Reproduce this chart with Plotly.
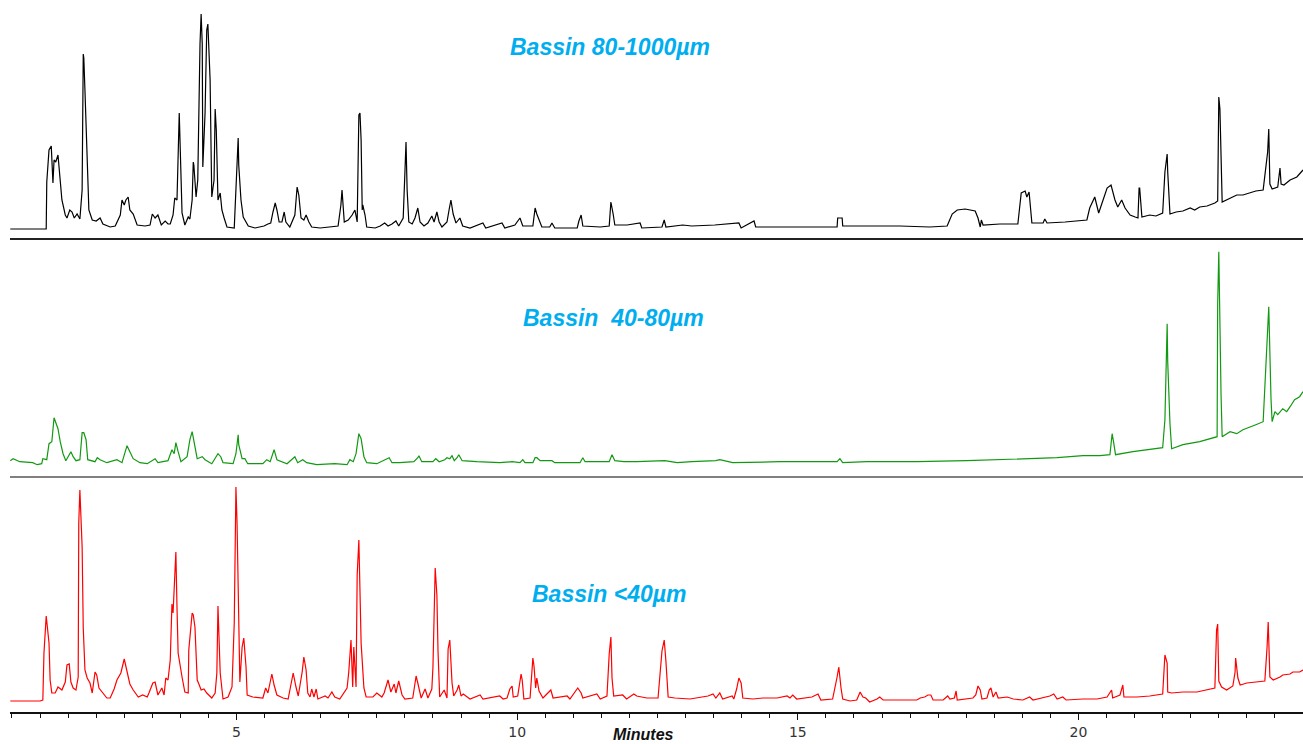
import plotly.graph_objects as go
from plotly.subplots import make_subplots

# retention time (minutes) / detector response
BLACK_T = [0.97, 1.61, 1.62, 1.66, 1.70, 1.73, 1.75, 1.78, 1.82, 1.86, 1.89, 1.95, 1.98, 2.03, 2.07,
           2.11, 2.16, 2.21, 2.25, 2.27, 2.28, 2.30, 2.34, 2.37, 2.43, 2.50, 2.57, 2.62, 2.75, 2.84,
           2.93, 2.96, 3.00, 3.03, 3.07, 3.10, 3.16, 3.23, 3.37, 3.46, 3.50, 3.55, 3.60, 3.66, 3.73,
           3.78, 3.82, 3.87, 3.90, 3.94, 3.98, 3.99, 4.01, 4.03, 4.08, 4.14, 4.17, 4.21, 4.23, 4.24,
           4.28, 4.31, 4.35, 4.37, 4.39, 4.40, 4.44, 4.47, 4.49, 4.51, 4.53, 4.55, 4.56, 4.60, 4.62,
           4.64, 4.65, 4.67, 4.71, 4.74, 4.78, 4.83, 4.96, 4.99, 5.01, 5.03, 5.04, 5.08, 5.12, 5.15,
           5.21, 5.33, 5.42, 5.49, 5.56, 5.61, 5.65, 5.69, 5.72, 5.76, 5.81, 5.85, 5.88, 5.95, 6.04,
           6.08, 6.11, 6.15, 6.20, 6.24, 6.29, 6.34, 6.49, 6.67, 6.81, 6.86, 6.88, 6.92, 6.99, 7.06,
           7.11, 7.15, 7.16, 7.18, 7.20, 7.22, 7.24, 7.25, 7.29, 7.32, 7.47, 7.56, 7.64, 7.70, 7.77,
           7.84, 7.89, 7.97, 8.00, 8.02, 8.04, 8.07, 8.13, 8.18, 8.23, 8.27, 8.34, 8.41, 8.48, 8.52,
           8.57, 8.61, 8.66, 8.75, 8.79, 8.82, 8.86, 8.91, 8.98, 9.03, 9.16, 9.39, 9.44, 9.73, 9.78,
           9.96, 10.05, 10.10, 10.28, 10.32, 10.35, 10.39, 10.44, 10.58, 10.62, 10.67, 11.07, 11.10,
           11.14, 11.17, 11.48, 11.64, 11.67, 11.71, 11.74, 11.96, 12.19, 12.22, 12.58, 12.62, 12.65,
           12.95, 13.11, 13.52, 13.95, 13.99, 14.22, 14.25, 14.86, 15.34, 15.70, 15.71, 15.79, 15.80,
           16.82, 17.35, 17.66, 17.75, 17.84, 17.98, 18.16, 18.21, 18.25, 18.27, 18.30, 18.60, 18.92,
           18.98, 19.05, 19.08, 19.12, 19.17, 19.37, 19.40, 19.44, 19.76, 20.15, 20.20, 20.29, 20.36,
           20.44, 20.51, 20.58, 20.65, 20.70, 20.77, 20.83, 20.92, 21.01, 21.06, 21.08, 21.09, 21.13,
           21.27, 21.38, 21.50, 21.54, 21.58, 21.59, 21.63, 21.74, 21.86, 21.99, 22.07, 22.16, 22.29,
           22.43, 22.48, 22.50, 22.52, 22.56, 22.64, 22.73, 22.82, 22.93, 23.05, 23.16, 23.29, 23.37,
           23.39, 23.41, 23.45, 23.55, 23.59, 23.61, 23.66, 23.77, 23.89, 24.00]
BLACK_Y = [0, 0, 47, 79, 83, 46, 69, 67, 74, 51, 29, 14, 11, 19, 17,
           11, 15, 10, 39, 175, 171, 139, 59, 19, 9, 8, 11, 5, 2, 3,
           14, 29, 24, 29, 32, 19, 15, 4, 3, 4, 15, 11, 14, 4, 8,
           5, 5, 14, 31, 29, 116, 94, 59, 16, 4, 12, 10, 29, 67, 64,
           32, 49, 185, 215, 185, 62, 116, 199, 205, 179, 149, 69, 32, 49, 120,
           99, 59, 29, 36, 19, 11, 2, 1, 34, 59, 91, 64, 29, 12, 9,
           3, 1, 2, 3, 5, 6, 17, 26, 19, 7, 7, 17, 7, 2, 14,
           42, 34, 11, 9, 14, 7, 2, 1, 2, 3, 24, 39, 7, 9, 14,
           19, 7, 49, 114, 116, 89, 19, 24, 14, 2, 1, 3, 6, 3, 5,
           8, 3, 11, 56, 87, 39, 7, 5, 11, 21, 7, 3, 6, 13, 7,
           17, 7, 2, 7, 20, 29, 15, 6, 11, 3, 1, 6, 1, 6, 1,
           4, 11, 3, 3, 21, 15, 9, 2, 2, 6, 1, 1, 8,
           14, 3, 2, 3, 27, 15, 4, 4, 6, 1, 2, 9, 2,
           4, 3, 4, 6, 1, 8, 2, 2, 2, 2, 11, 11, 3,
           3, 2, 3, 15, 19, 20, 18, 11, 2, 9, 4, 5, 5,
           36, 38, 32, 37, 6, 6, 10, 6, 7, 9, 21, 32, 16,
           29, 41, 44, 29, 22, 29, 21, 14, 12, 11, 41, 41, 12,
           14, 13, 16, 57, 75, 57, 15, 17, 18, 21, 19, 22, 23,
           26, 28, 132, 120, 27, 29, 31, 34, 34, 36, 38, 39, 77,
           100, 45, 40, 42, 61, 45, 44, 49, 52, 59]

GREEN_T = [0.97, 1.02, 1.14, 1.37, 1.45, 1.53, 1.55, 1.62, 1.66, 1.71, 1.75, 1.78, 1.82, 1.86, 1.91,
           1.96, 2.00, 2.05, 2.09, 2.14, 2.21, 2.25, 2.28, 2.32, 2.35, 2.48, 2.52, 2.57, 2.69, 2.87,
           2.96, 3.01, 3.05, 3.10, 3.16, 3.28, 3.41, 3.55, 3.60, 3.78, 3.85, 3.89, 3.92, 3.96, 4.01,
           4.12, 4.17, 4.21, 4.24, 4.30, 4.39, 4.44, 4.56, 4.67, 4.72, 4.76, 4.94, 4.99, 5.03, 5.04,
           5.10, 5.15, 5.20, 5.47, 5.54, 5.60, 5.67, 5.72, 5.90, 6.04, 6.09, 6.18, 6.25, 6.43, 6.75,
           6.97, 7.02, 7.08, 7.13, 7.18, 7.22, 7.25, 7.27, 7.32, 7.50, 7.72, 7.77, 7.91, 8.16, 8.23,
           8.25, 8.30, 8.50, 8.55, 8.61, 8.71, 8.75, 8.80, 8.84, 8.88, 8.93, 8.96, 9.02, 9.28, 9.69,
           9.91, 10.05, 10.10, 10.14, 10.28, 10.32, 10.35, 10.41, 10.62, 10.67, 11.12, 11.17, 11.21,
           11.64, 11.69, 11.74, 11.90, 12.13, 12.63, 12.85, 13.11, 13.54, 13.61, 13.84, 14.68, 15.39,
           15.70, 15.75, 15.80, 16.23, 17.12, 18.01, 18.60, 19.19, 19.62, 20.08, 20.38, 20.56, 20.58,
           20.60, 20.63, 20.66, 20.97, 21.27, 21.50, 21.54, 21.58, 21.59, 21.63, 21.66, 21.86, 22.16,
           22.39, 22.47, 22.48, 22.50, 22.54, 22.56, 22.70, 22.82, 22.93, 23.05, 23.16, 23.29, 23.36,
           23.39, 23.43, 23.45, 23.50, 23.55, 23.64, 23.71, 23.77, 23.85, 23.94, 24.00]
GREEN_Y = [2, 4, 1, 0, -2, -1, 4, 3, 19, 21, 45, 41, 34, 21, 9,
           2, 6, 11, 6, 2, 3, 30, 30, 23, 3, 1, 5, 3, 0, 3,
           0, 9, 17, 11, 4, 0, -1, 4, 0, 2, 13, 9, 20, 11, 1,
           6, 23, 31, 23, 4, 6, 3, -1, 9, 6, 0, -1, 9, 28, 18,
           4, 4, -1, -1, 3, 1, 13, 3, -1, 6, 0, 3, 0, -2, -1,
           -2, 3, 1, 9, 29, 24, 14, 6, 0, -1, 5, 0, 0, 1, 5,
           7, 1, 1, 4, 1, 3, 5, 4, 7, 2, 5, 8, 2, 1, 0,
           1, 0, 3, 0, 0, 5, 5, 2, 2, 0, 0, 5, 1,
           1, 8, 2, 1, 1, 2, 0, 1, 2, 3, 0, 1, 1,
           1, 4, 0, 1, 1, 2, 3, 4, 5, 7, 7, 8, 20,
           29, 19, 8, 11, 13, 15, 43, 139, 101, 39, 14, 18, 21,
           25, 26, 159, 211, 68, 26, 31, 29, 33, 36, 38, 41, 116,
           156, 64, 41, 51, 48, 54, 51, 56, 63, 66, 71]

RED_T = [0.97, 1.50, 1.55, 1.57, 1.61, 1.62, 1.66, 1.68, 1.71, 1.77, 1.82, 1.89, 1.95, 1.98, 2.02,
         2.05, 2.09, 2.14, 2.18, 2.19, 2.21, 2.25, 2.27, 2.30, 2.34, 2.39, 2.43, 2.48, 2.51, 2.55,
         2.60, 2.69, 2.75, 2.82, 2.87, 2.94, 3.00, 3.05, 3.10, 3.16, 3.25, 3.33, 3.41, 3.44, 3.51,
         3.55, 3.60, 3.67, 3.71, 3.74, 3.78, 3.82, 3.85, 3.87, 3.89, 3.92, 3.94, 3.96, 4.03, 4.08,
         4.14, 4.15, 4.21, 4.23, 4.26, 4.30, 4.33, 4.37, 4.42, 4.47, 4.56, 4.62, 4.65, 4.67, 4.71,
         4.76, 4.85, 4.92, 4.96, 4.99, 5.01, 5.04, 5.06, 5.10, 5.13, 5.17, 5.19, 5.29, 5.47, 5.52,
         5.56, 5.63, 5.67, 5.72, 5.83, 5.92, 6.01, 6.06, 6.10, 6.17, 6.20, 6.24, 6.27, 6.31, 6.34,
         6.38, 6.42, 6.45, 6.58, 6.63, 6.70, 6.75, 6.84, 6.97, 7.00, 7.04, 7.07, 7.09, 7.13, 7.15,
         7.18, 7.22, 7.24, 7.27, 7.31, 7.43, 7.50, 7.59, 7.63, 7.70, 7.75, 7.81, 7.84, 7.89, 7.95,
         8.00, 8.14, 8.20, 8.23, 8.29, 8.36, 8.41, 8.48, 8.50, 8.54, 8.57, 8.59, 8.62, 8.70, 8.75,
         8.77, 8.80, 8.84, 8.87, 8.93, 8.96, 9.00, 9.04, 9.16, 9.34, 9.39, 9.69, 9.75, 9.82, 9.87,
         9.91, 9.93, 10.01, 10.07, 10.09, 10.12, 10.23, 10.28, 10.30, 10.33, 10.35, 10.39, 10.46,
         10.60, 10.64, 10.89, 10.94, 11.08, 11.14, 11.17, 11.42, 11.48, 11.60, 11.64, 11.67, 11.69,
         11.72, 11.88, 11.95, 12.08, 12.13, 12.31, 12.51, 12.58, 12.62, 12.65, 12.69, 12.81, 13.08,
         13.40, 13.49, 13.54, 13.61, 13.66, 13.83, 13.86, 13.91, 13.95, 13.99, 14.02, 14.20, 14.38,
         14.63, 14.81, 14.86, 14.91, 14.98, 15.25, 15.36, 15.41, 15.62, 15.70, 15.73, 15.77, 15.80,
         15.93, 16.05, 16.11, 16.16, 16.21, 16.28, 16.41, 16.46, 16.52, 16.82, 17.12, 17.18, 17.26,
         17.32, 17.37, 17.41, 17.59, 17.67, 17.71, 17.79, 17.82, 17.84, 18.12, 18.17, 18.21, 18.25,
         18.28, 18.37, 18.41, 18.44, 18.48, 18.53, 18.57, 18.73, 18.84, 19.01, 19.13, 19.19, 19.49,
         19.56, 19.62, 19.72, 19.78, 20.08, 20.33, 20.51, 20.59, 20.61, 20.74, 20.79, 20.81, 21.04,
         21.27, 21.50, 21.54, 21.58, 21.59, 21.66, 21.86, 22.11, 22.29, 22.43, 22.46, 22.48, 22.50,
         22.55, 22.64, 22.70, 22.75, 22.79, 22.80, 22.84, 22.88, 23.00, 23.18, 23.32, 23.36, 23.38,
         23.41, 23.47, 23.59, 23.64, 23.77, 23.82, 23.94, 24.00]
RED_Y = [0, 0, 1, 48, 85, 78, 58, 21, 8, 8, 14, 11, 19, 36, 37,
         19, 13, 11, 24, 178, 211, 154, 73, 31, 23, 18, 8, 29, 26, 13,
         9, 3, 3, 12, 21, 28, 42, 30, 17, 11, 4, 6, 4, 8, 18,
         19, 6, 13, 6, 23, 21, 41, 97, 88, 121, 149, 94, 48, 24, 9,
         8, 51, 88, 86, 74, 21, 17, 11, 12, 8, 3, 8, 28, 95, 28,
         2, 4, 14, 78, 214, 178, 48, 19, 54, 63, 34, 6, 4, 3, 13,
         8, 27, 16, 6, 3, 2, 28, 14, 5, 29, 44, 31, 8, 4, 12,
         4, 12, 2, 5, 3, 9, 4, 2, 13, 29, 61, 14, 54, 14, 126,
         161, 58, 38, 13, 4, 4, 8, 4, 8, 21, 9, 17, 8, 20, 6,
         2, 3, 25, 18, 3, 12, 3, 12, 34, 133, 106, 50, 4, 11, 3,
         52, 61, 18, 5, 11, 16, 5, 7, 2, 6, 2, 5, 2, 3, 12,
         15, 4, 5, 27, 21, 2, 3, 43, 35, 13, 23, 10, 3,
         11, 3, 5, 2, 13, 8, 3, 7, 2, 5, 47, 64, 23,
         5, 6, 2, 7, 5, 3, 3, 50, 61, 40, 4, 3, 2,
         5, 7, 3, 8, 2, 5, 2, 12, 23, 18, 3, 2, 3,
         3, 5, 3, 6, 2, 4, 7, 1, 2, 24, 34, 13, 2,
         0, 1, 9, 4, 3, -1, 2, 4, 1, 1, 1, 3, 4,
         6, 6, 1, 1, 5, 2, 3, 10, 1, 3, 6, 15, 11,
         2, 3, 11, 13, 4, 9, 3, 4, 2, 1, 4, 1, 5,
         7, 2, 4, 1, 2, 2, 4, 11, 3, 6, 16, 4, 4,
         5, 7, 46, 38, 9, 8, 9, 9, 11, 13, 71, 77, 20,
         14, 11, 13, 15, 29, 43, 23, 16, 18, 19, 20, 54, 79,
         24, 21, 24, 26, 27, 29, 29, 31]

PANEL_TITLES = ["Bassin 80-1000µm", "Bassin \u00a040-80µm", "Bassin &lt;40µm"]
TRACE_COLORS = ["#000000", "#129912", "#ff0000"]

fig = make_subplots(rows=3, cols=1, shared_xaxes=True, vertical_spacing=0,
                    row_heights=[238, 238, 236])

series = [(BLACK_T, BLACK_Y), (GREEN_T, GREEN_Y), (RED_T, RED_Y)]
for i, (t, y) in enumerate(series):
    fig.add_trace(go.Scatter(x=t, y=y, mode="lines",
                             line=dict(color=TRACE_COLORS[i], width=1.2),
                             showlegend=False, hoverinfo="skip"),
                  row=i + 1, col=1)

# y ranges put each baseline where it sits in the original
y_ranges = [[-9, 229], [-13.3, 224.7], [-11, 225]]
sep_colors = ["#222222", "#808080", "#111111"]
for i in range(3):
    fig.update_yaxes(range=y_ranges[i], visible=False, row=i + 1, col=1)
    fig.update_xaxes(range=[0.965, 24.0], showline=True, linecolor=sep_colors[i],
                     linewidth=1.5, showgrid=False, zeroline=False, row=i + 1, col=1)

fig.update_xaxes(showticklabels=False, ticks="", row=1, col=1)
fig.update_xaxes(showticklabels=False, ticks="", row=2, col=1)
fig.update_xaxes(tick0=0, dtick=5, ticks="outside", ticklen=6, tickcolor="#111111",
                 tickfont=dict(family="DejaVu Sans", size=14, color="#333333"),
                 minor=dict(dtick=0.5, ticks="outside", ticklen=4, tickcolor="#111111"),
                 row=3, col=1)

title_pos = [(0.464, 0.934), (0.467, 0.553), (0.464, 0.166)]
for txt, (px, py) in zip(PANEL_TITLES, title_pos):
    fig.add_annotation(text=txt, xref="paper", yref="paper", x=px, y=py,
                       showarrow=False, xanchor="center", yanchor="middle",
                       font=dict(family="Liberation Sans, Arial", size=23, color="#00aeef",
                                 weight="bold", style="italic"))

fig.add_annotation(text="Minutes", xref="paper", yref="paper", x=0.49, y=-0.031,
                   showarrow=False, xanchor="center", yanchor="middle",
                   font=dict(family="Liberation Sans, Arial", size=16, color="#111111",
                             weight="bold", style="italic"))

fig.update_layout(width=1303, height=744, margin=dict(l=10, r=0, t=0, b=32),
                  plot_bgcolor="white", paper_bgcolor="white")

# the page body has a default 8px margin; drop it so the figure sits at the window corner
fig.write_html("out.html", config={"displayModeBar": False},
               post_script="document.body.style.margin='0px';")
